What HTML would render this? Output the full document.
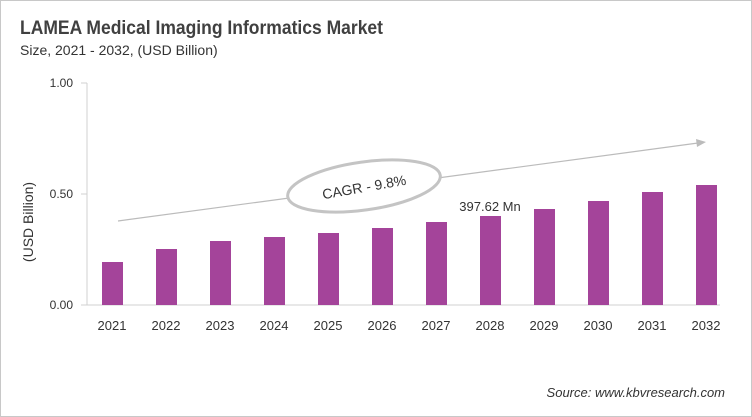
<!DOCTYPE html>
<html><head><style>
body{margin:0;background:#fff;}
.w{position:relative;width:750px;height:415px;border:1px solid #c8c8c8;font-family:"Liberation Sans",sans-serif;color:#333;overflow:hidden}
</style></head><body><div class="w">
<svg width="750" height="415" viewBox="1 1 750 415" style="position:absolute;left:0;top:0" font-family="Liberation Sans, sans-serif">
<text x="20" y="34" font-size="19" font-weight="bold" fill="#404040" textLength="363" lengthAdjust="spacingAndGlyphs">LAMEA Medical Imaging Informatics Market</text>
<text x="20" y="55" font-size="14" fill="#333">Size, 2021 - 2032, (USD Billion)</text>
<g font-size="12" fill="#333" text-anchor="end">
<text x="73" y="87">1.00</text><text x="73" y="198">0.50</text><text x="73" y="309">0.00</text></g>
<line x1="87" y1="83" x2="87" y2="305" stroke="#d0d0d0"/>
<line x1="81" y1="83" x2="87" y2="83" stroke="#d0d0d0"/>
<line x1="81" y1="194" x2="87" y2="194" stroke="#d0d0d0"/>
<line x1="81" y1="305" x2="720" y2="305" stroke="#d0d0d0"/>
<text transform="translate(33,222) rotate(-90)" font-size="14" text-anchor="middle" fill="#333">(USD Billion)</text>
<g fill="#a4449a">
<rect x="102" y="262" width="21" height="43"/>
<rect x="156" y="249" width="21" height="56"/>
<rect x="210" y="241" width="21" height="64"/>
<rect x="264" y="237" width="21" height="68"/>
<rect x="318" y="233" width="21" height="72"/>
<rect x="372" y="228" width="21" height="77"/>
<rect x="426" y="222" width="21" height="83"/>
<rect x="480" y="216" width="21" height="89"/>
<rect x="534" y="209" width="21" height="96"/>
<rect x="588" y="201" width="21" height="104"/>
<rect x="642" y="192" width="21" height="113"/>
<rect x="696" y="185" width="21" height="120"/>
</g>
<g font-size="13" fill="#333" text-anchor="middle">
<text x="112" y="330">2021</text><text x="166" y="330">2022</text><text x="220" y="330">2023</text><text x="274" y="330">2024</text><text x="328" y="330">2025</text><text x="382" y="330">2026</text><text x="436" y="330">2027</text><text x="490" y="330">2028</text><text x="544" y="330">2029</text><text x="598" y="330">2030</text><text x="652" y="330">2031</text><text x="706" y="330">2032</text>
</g>
<text x="490" y="211" font-size="13" text-anchor="middle" fill="#333">397.62 Mn</text>
<line x1="118" y1="221" x2="698" y2="143" stroke="#bbb" stroke-width="1.2"/>
<polygon points="706,142 696,139 697,147" fill="#bbb"/>
<ellipse cx="364" cy="186" rx="77" ry="24" transform="rotate(-8 364 186)" fill="#fff" stroke="#c4c4c4" stroke-width="3"/>
<text x="364" y="192" font-size="14" text-anchor="middle" transform="rotate(-10 364 186)" fill="#333">CAGR - 9.8%</text>
<text x="725" y="397" font-size="13" font-style="italic" text-anchor="end" fill="#333">Source: www.kbvresearch.com</text>
</svg></div></body></html>
